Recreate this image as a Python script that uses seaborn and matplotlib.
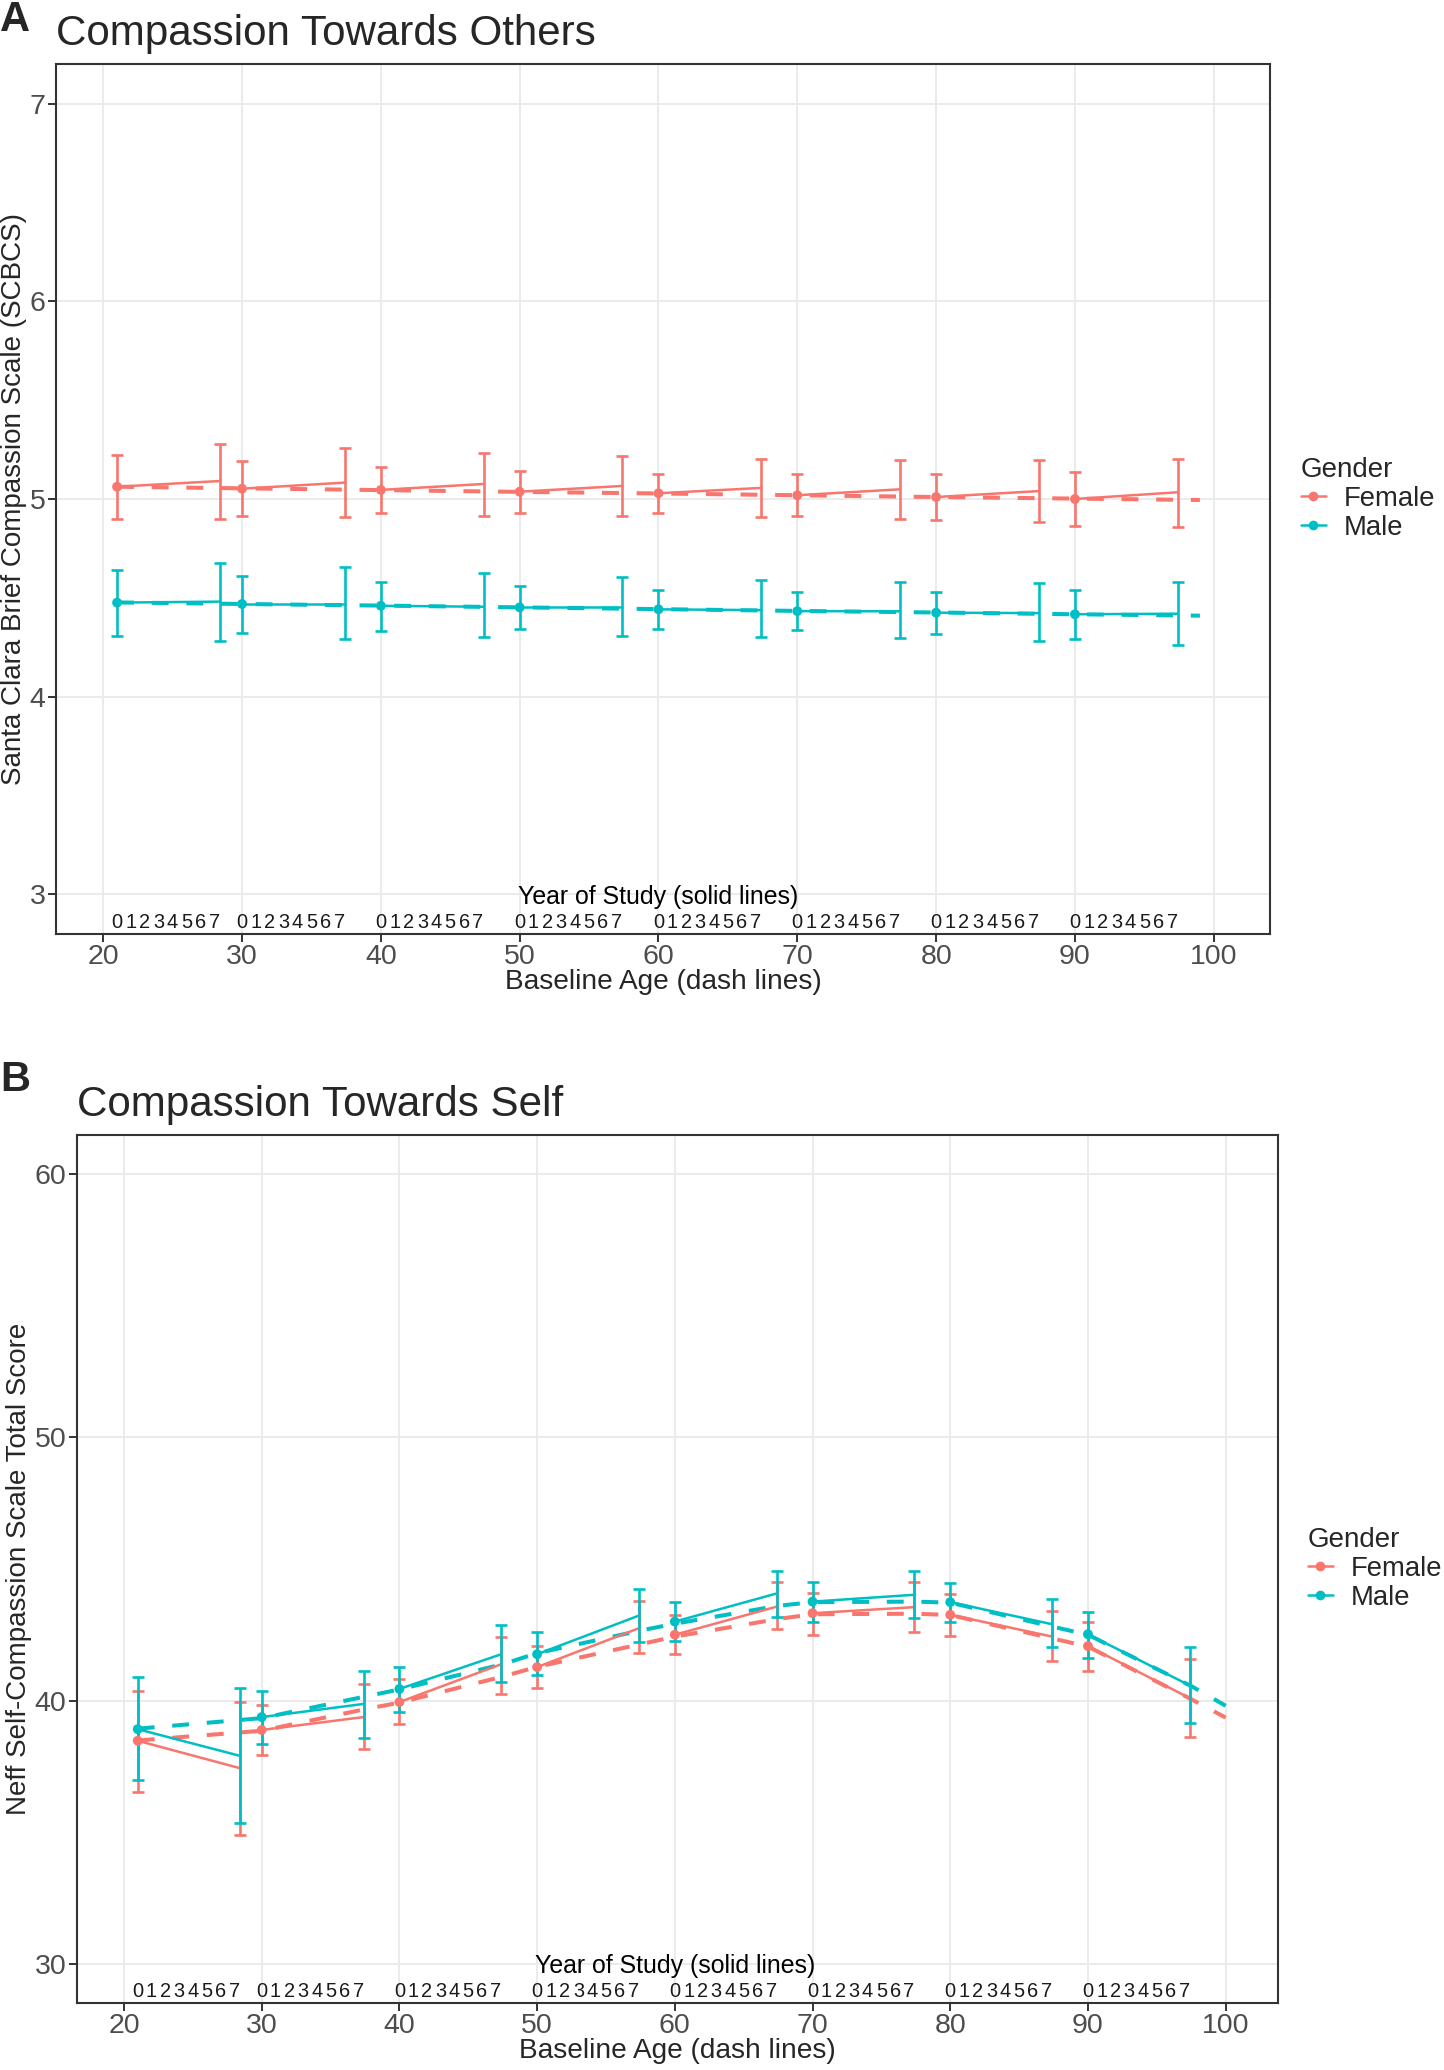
import matplotlib
matplotlib.use("Agg")
import matplotlib.pyplot as plt
from matplotlib.lines import Line2D
import seaborn as sns
import pandas as pd
import numpy as np

sns.set_style("white")
plt.rcParams['font.family'] = ['Liberation Sans', 'DejaVu Sans']

# ---------------- data ----------------
genders = ["Female", "Male"]
palette = {"Female": "#F8766D", "Male": "#00BFC4"}
cohort_start = [21, 30, 40, 50, 60, 70, 80, 90]
cohort_end = [28.4, 37.4, 47.4, 57.4, 67.4, 77.4, 87.4, 97.4]
study_years = [0, 1, 2, 3, 4, 5, 6, 7]
x_ticks = [20, 30, 40, 50, 60, 70, 80, 90, 100]

# Panel A: Santa Clara Brief Compassion Scale
a_f_start = [5.062, 5.052, 5.046, 5.037, 5.029, 5.019, 5.010, 5.000]
a_f_start_lo = [4.900, 4.914, 4.927, 4.930, 4.927, 4.914, 4.894, 4.865]
a_f_start_hi = [5.223, 5.190, 5.164, 5.140, 5.128, 5.125, 5.128, 5.137]
a_f_end = [5.091, 5.083, 5.076, 5.066, 5.056, 5.049, 5.040, 5.034]
a_f_end_lo = [4.897, 4.907, 4.914, 4.914, 4.910, 4.900, 4.882, 4.857]
a_f_end_hi = [5.280, 5.258, 5.234, 5.219, 5.204, 5.197, 5.199, 5.204]
a_m_start = [4.476, 4.469, 4.460, 4.452, 4.442, 4.433, 4.425, 4.417]
a_m_start_lo = [4.305, 4.322, 4.334, 4.342, 4.342, 4.337, 4.317, 4.292]
a_m_start_hi = [4.641, 4.612, 4.582, 4.560, 4.540, 4.531, 4.530, 4.538]
a_m_end = [4.481, 4.469, 4.455, 4.452, 4.438, 4.432, 4.423, 4.420]
a_m_end_lo = [4.282, 4.292, 4.300, 4.307, 4.304, 4.295, 4.282, 4.260]
a_m_end_hi = [4.676, 4.654, 4.624, 4.604, 4.589, 4.578, 4.575, 4.582]
a_dash_age = [21, 30, 40, 50, 60, 70, 80, 90, 99]
a_dash_f = [5.062, 5.054, 5.045, 5.036, 5.028, 5.019, 5.010, 5.002, 4.995]
a_dash_m = [4.477, 4.469, 4.461, 4.452, 4.443, 4.434, 4.426, 4.417, 4.410]
a_yticks = [3, 4, 5, 6, 7]

# Panel B: Neff Self-Compassion Scale
b_f_start = [38.47, 38.88, 39.94, 41.27, 42.50, 43.32, 43.26, 42.07]
b_f_start_lo = [36.54, 37.93, 39.11, 40.47, 41.76, 42.50, 42.47, 41.13]
b_f_start_hi = [40.38, 39.84, 40.81, 42.08, 43.26, 44.08, 44.06, 42.98]
b_f_end = [37.43, 39.37, 41.38, 42.75, 43.57, 43.55, 42.43, 40.09]
b_f_end_lo = [34.89, 38.16, 40.25, 41.81, 42.72, 42.62, 41.51, 38.63]
b_f_end_hi = [39.95, 40.62, 42.40, 43.79, 44.51, 44.52, 43.42, 41.58]
b_m_start = [38.91, 39.37, 40.44, 41.76, 43.00, 43.76, 43.74, 42.52]
b_m_start_lo = [36.96, 38.35, 39.57, 40.96, 42.27, 43.00, 42.98, 41.61]
b_m_start_hi = [40.89, 40.37, 41.29, 42.59, 43.73, 44.52, 44.46, 43.38]
b_m_end = [37.90, 39.87, 41.76, 43.23, 44.07, 44.02, 42.90, 40.57]
b_m_end_lo = [35.34, 38.58, 40.70, 42.24, 43.19, 43.13, 42.03, 39.16]
b_m_end_hi = [40.46, 41.14, 42.88, 44.25, 44.94, 44.94, 43.85, 42.03]
b_dash_age = [21, 30, 37.5, 40, 47.5, 50, 57.5, 60, 67.5, 70, 77.5, 80, 87.5, 90, 97.5, 100]
b_dash_f = [38.48, 38.85, 39.67, 39.92, 40.91, 41.28, 42.14, 42.43, 43.10, 43.28, 43.30, 43.25, 42.35, 42.05, 40.05, 39.35]
b_dash_m = [38.93, 39.33, 40.15, 40.42, 41.38, 41.80, 42.66, 42.92, 43.60, 43.74, 43.76, 43.72, 42.80, 42.50, 40.55, 39.80]
b_yticks = [30, 40, 50, 60]

# ---------------- figure ----------------
W, H = 1444, 2070
fig = plt.figure(figsize=(W / 100, H / 100), dpi=100)


def fx(x):
    return x / W


def fy(y):
    return 1 - y / H


axA = fig.add_axes([fx(56), fy(934), 1214 / W, 870 / H])
axB = fig.add_axes([fx(77), fy(2003), 1201 / W, 868 / H])

GRID = "#EBEBEB"
FRAME = "#333333"
TICKTXT = "#4D4D4D"


def draw_panel(ax, f_vals, m_vals, dash_age, dash_f, dash_m, yticks, xlim, ylim):
    # dashed baseline-age curves
    dash_df = pd.DataFrame({
        "age": list(dash_age) * 2,
        "score": list(dash_f) + list(dash_m),
        "Gender": ["Female"] * len(dash_age) + ["Male"] * len(dash_age),
    })
    n0 = len(ax.lines)
    sns.lineplot(data=dash_df, x="age", y="score", hue="Gender", palette=palette,
                 estimator=None, sort=False, lw=2.9, legend=False, ax=ax, zorder=2)
    for ln in ax.lines[n0:]:
        ln.set_dashes((4.2, 4.4))
        ln.set_solid_capstyle("butt")
        ln.set_dash_capstyle("butt")

    # solid study-year trajectories
    rows = []
    for g, vals in zip(genders, [f_vals, m_vals]):
        for i in range(len(cohort_start)):
            rows.append({"age": cohort_start[i], "score": vals[0][i], "Gender": g, "cohort": i})
            rows.append({"age": cohort_end[i], "score": vals[3][i], "Gender": g, "cohort": i})
    solid_df = pd.DataFrame(rows)
    sns.lineplot(data=solid_df, x="age", y="score", hue="Gender", units="cohort",
                 palette=palette, estimator=None, sort=False, lw=1.8, legend=False,
                 ax=ax, zorder=3)

    # error bars at year 0 and year 7
    for g, vals in zip(genders, [f_vals, m_vals]):
        xs = np.array(cohort_start + cohort_end, dtype=float)
        ys = np.array(vals[0] + vals[3])
        lo = np.array(vals[1] + vals[4])
        hi = np.array(vals[2] + vals[5])
        ax.errorbar(xs, ys, yerr=[ys - lo, hi - ys], fmt="none", ecolor=palette[g],
                    elinewidth=1.9, capsize=4.2, capthick=1.9, zorder=4)

    # baseline points
    pts = pd.DataFrame({
        "age": cohort_start * 2,
        "score": f_vals[0] + m_vals[0],
        "Gender": ["Female"] * 8 + ["Male"] * 8,
    })
    sns.scatterplot(data=pts, x="age", y="score", hue="Gender", palette=palette,
                    s=50, edgecolor="none", legend=False, ax=ax, zorder=5)

    ax.set_xlim(*xlim)
    ax.set_ylim(*ylim)
    ax.set_xticks(x_ticks)
    ax.set_yticks(yticks)
    ax.set_xlabel("")
    ax.set_ylabel("")
    ax.grid(True, color=GRID, lw=1.4, zorder=0)
    ax.set_axisbelow(True)
    for sp in ax.spines.values():
        sp.set_visible(True)
        sp.set_color(FRAME)
        sp.set_linewidth(1.5)
    ax.tick_params(axis="both", which="major", direction="out", length=6, width=1.4,
                   color=FRAME, labelsize=20.5, labelcolor=TICKTXT, pad=1.5,
                   bottom=True, left=True)

    # year-of-study digits
    tr = ax.get_xaxis_transform()
    for b in cohort_start:
        for k in study_years:
            ax.text(b + k, 0.0135, str(k), transform=tr, ha="center", va="center",
                    fontsize=14.4, color="#1A1A1A")
    ax.text((x_ticks[0] + x_ticks[-1]) / 2, 0.043, "Year of Study (solid lines)",
            transform=tr, ha="center", va="center", fontsize=17.9, color="black")


draw_panel(axA,
           [a_f_start, a_f_start_lo, a_f_start_hi, a_f_end, a_f_end_lo, a_f_end_hi],
           [a_m_start, a_m_start_lo, a_m_start_hi, a_m_end, a_m_end_lo, a_m_end_hi],
           a_dash_age, a_dash_f, a_dash_m, a_yticks, (16.6, 104.05), (2.8, 7.2))
draw_panel(axB,
           [b_f_start, b_f_start_lo, b_f_start_hi, b_f_end, b_f_end_lo, b_f_end_hi],
           [b_m_start, b_m_start_lo, b_m_start_hi, b_m_end, b_m_end_lo, b_m_end_hi],
           b_dash_age, b_dash_f, b_dash_m, b_yticks, (16.59, 103.8), (28.5, 61.5))

# titles and panel letters
fig.text(fx(0), fy(20), "A", fontsize=30, fontweight="bold", ha="left", va="center")
fig.text(fx(56), fy(45), "Compassion Towards Others", fontsize=30.3, ha="left", va="baseline")
fig.text(fx(0), fy(1080), "B", fontsize=30, fontweight="bold", ha="left", va="center")
fig.text(fx(77), fy(1116), "Compassion Towards Self", fontsize=30.3, ha="left", va="baseline")

# axis titles
fig.text(fx(663), fy(982), "Baseline Age (dash lines)", fontsize=20.2, ha="center", va="center")
fig.text(fx(677.5), fy(2051), "Baseline Age (dash lines)", fontsize=20.2, ha="center", va="center")
fig.text(fx(14), fy(499), "Santa Clara Brief Compassion Scale (SCBCS)", fontsize=20,
         rotation=90, ha="center", va="center")
fig.text(fx(19), fy(1569), "Neff Self-Compassion Scale Total Score", fontsize=20,
         rotation=90, ha="center", va="center")

# legends
handles = [Line2D([0], [0], color=palette[g], lw=1.8, marker="o", ms=7, mec="none")
           for g in genders]
for ax, lx, cy in [(axA, 1301, 499), (axB, 1308, 1569)]:
    leg = ax.legend(handles, genders, title="Gender", loc="center left",
                    bbox_to_anchor=(fx(lx), fy(cy)), bbox_transform=fig.transFigure,
                    frameon=False, fontsize=19.8, title_fontsize=20,
                    handlelength=0.9, handletextpad=0.65, labelspacing=0.1,
                    borderpad=0, borderaxespad=0, alignment="left")

fig.savefig("out.png", dpi=100)
